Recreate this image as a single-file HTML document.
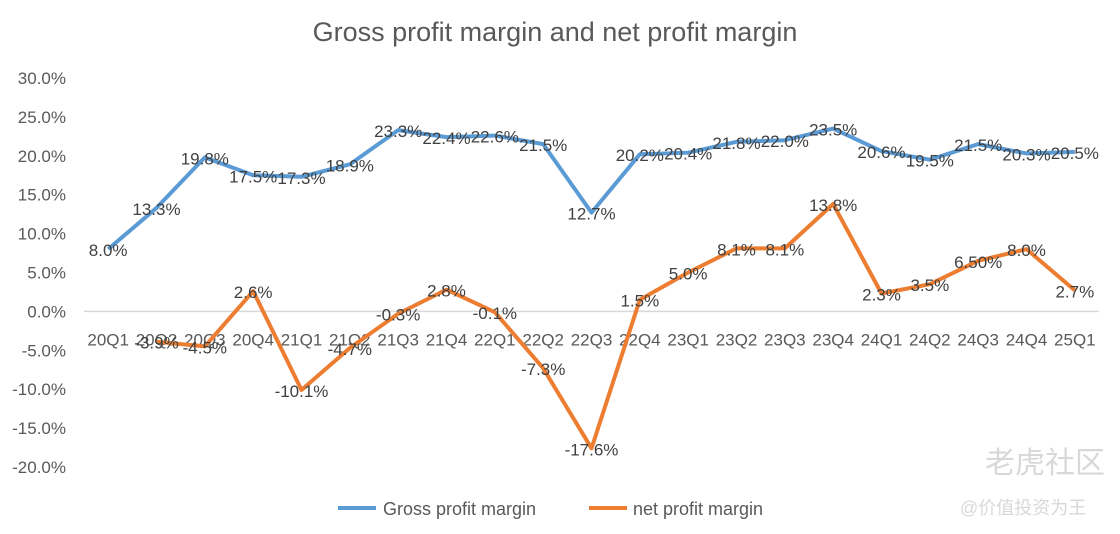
<!DOCTYPE html>
<html><head><meta charset="utf-8"><style>
body{margin:0;background:#fff;}
svg{font-family:"Liberation Sans","Noto Sans CJK SC",sans-serif;}
</style></head><body>
<svg width="1120" height="529" xmlns="http://www.w3.org/2000/svg">
<text x="555" y="41" text-anchor="middle" font-size="27" fill="#595959">Gross profit margin and net profit margin</text>
<g id="yaxis"></g>
<g id="xaxis"></g>
<g id="series"></g>
<g id="labels"></g>
<g>
<line x1="338" y1="508" x2="376" y2="508" stroke="#5B9BD5" stroke-width="4"/>
<text x="383" y="515" font-size="18" fill="#595959">Gross profit margin</text>
<line x1="589" y1="508" x2="627" y2="508" stroke="#ED7D31" stroke-width="4"/>
<text x="633" y="515" font-size="18" fill="#595959">net profit margin</text>
</g>
<text x="985" y="473" font-size="30" fill="#d8d8d8">老虎社区</text>
<text x="960" y="514" font-size="18" fill="#d8d8d8">@价值投资为王</text>
</svg>
<script>
const categories=["20Q1","20Q2","20Q3","20Q4","21Q1","21Q2","21Q3","21Q4","22Q1","22Q2","22Q3","22Q4","23Q1","23Q2","23Q3","23Q4","24Q1","24Q2","24Q3","24Q4","25Q1"];
const gross=[8.0,13.3,19.8,17.5,17.3,18.9,23.3,22.4,22.6,21.5,12.7,20.2,20.4,21.8,22.0,23.5,20.6,19.5,21.5,20.3,20.5];
const net=[null,-3.9,-4.5,2.6,-10.1,-4.7,-0.3,2.8,-0.1,-7.3,-17.6,1.5,5.0,8.1,8.1,13.8,2.3,3.5,6.5,8.0,2.7];
const netLabels=["","-3.9%","-4.5%","2.6%","-10.1%","-4.7%","-0.3%","2.8%","-0.1%","-7.3%","-17.6%","1.5%","5.0%","8.1%","8.1%","13.8%","2.3%","3.5%","6.50%","8.0%","2.7%"];
const yTicks=[30,25,20,15,10,5,0,-5,-10,-15,-20];
const NS="http://www.w3.org/2000/svg";
const left=84,width=1015,yTop=78,yBot=467,yMax=30,yMin=-20;
const step=width/categories.length;
const x=i=>left+step*(i+0.5);
const y=v=>yTop+(yMax-v)/(yMax-yMin)*(yBot-yTop);
function mk(tag,attrs,parent){const e=document.createElementNS(NS,tag);for(const k in attrs)e.setAttribute(k,attrs[k]);parent.appendChild(e);return e;}
const ya=document.getElementById('yaxis');
yTicks.forEach(t=>{const e=mk('text',{x:66,y:y(t)+6,'text-anchor':'end','font-size':17,fill:'#595959'},ya);e.textContent=t.toFixed(1)+'%';

});
const zl=mk('line',{x1:left,x2:left+width,y1:y(0),y2:y(0),stroke:'#d9d9d9','stroke-width':1.5},ya);


const xa=document.getElementById('xaxis');
categories.forEach((c,i)=>{const e=mk('text',{x:x(i),y:y(0)+34,'text-anchor':'middle','font-size':17,fill:'#595959'},xa);e.textContent=c;

});
const sg=document.getElementById('series');
function path(arr){let d='';arr.forEach((v,i)=>{if(v===null)return;d+=(d?'L':'M')+x(i)+','+y(v);});return d;}
const gp=mk('path',{d:path(gross),fill:'none',stroke:'#5B9BD5','stroke-width':4,'stroke-linejoin':'round'},sg);


const np=mk('path',{d:path(net),fill:'none',stroke:'#ED7D31','stroke-width':4,'stroke-linejoin':'round'},sg);


const lg=document.getElementById('labels');
gross.forEach((v,i)=>{const e=mk('text',{x:x(i),y:y(v)+7,'text-anchor':'middle','font-size':17,fill:'#404040'},lg);e.textContent=v.toFixed(1)+'%';

});
net.forEach((v,i)=>{if(v===null)return;const e=mk('text',{x:x(i),y:y(v)+7,'text-anchor':'middle','font-size':17,fill:'#404040'},lg);e.textContent=netLabels[i];

});
</script>
</body></html>
